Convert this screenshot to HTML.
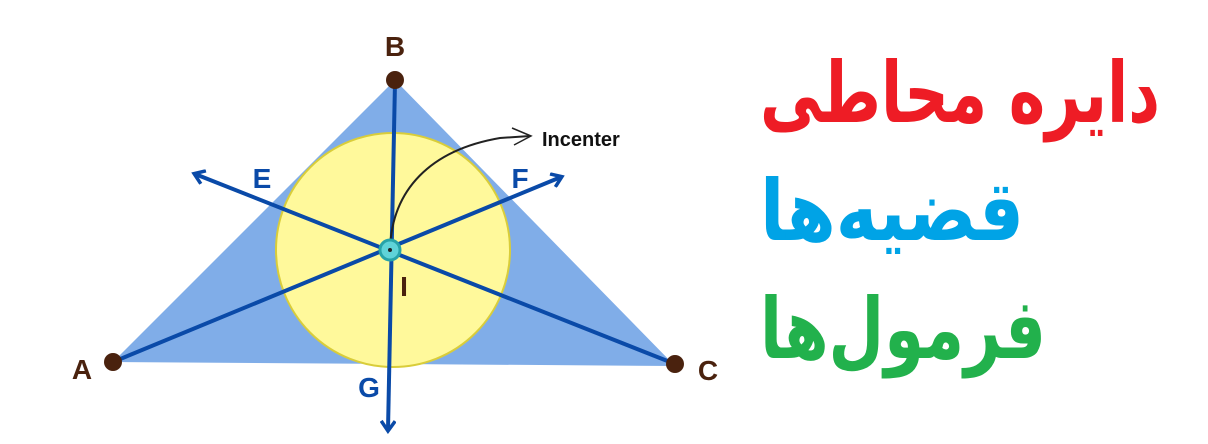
<!DOCTYPE html>
<html><head><meta charset="utf-8"><style>
html,body{margin:0;padding:0;background:#fff;}
svg{display:block;}
</style></head><body>
<svg width="1208" height="444" viewBox="0 0 1208 444" xmlns="http://www.w3.org/2000/svg">
<defs>
<marker id="ar" markerWidth="16" markerHeight="16" refX="12" refY="8" orient="auto" markerUnits="userSpaceOnUse">
<path d="M3,1 L13,8 L3,15" fill="none" stroke="#0a4aa8" stroke-width="3.5"/>
</marker>
</defs>
<polygon points="395,80 113,362 675,366" fill="#80ade8"/>
<ellipse cx="393" cy="250" rx="117" ry="117" fill="#fff99b" stroke="#d9cd3a" stroke-width="2"/>
<g stroke="#0a4aa8" stroke-width="4" fill="none">
<line x1="395" y1="82" x2="388" y2="430" marker-end="url(#ar)"/>
<line x1="113" y1="362" x2="561" y2="177" marker-end="url(#ar)"/>
<line x1="675" y1="364" x2="195" y2="174" marker-end="url(#ar)"/>
</g>
<path d="M390,249 C392,190 430,150 500,138 L530,136" fill="none" stroke="#222" stroke-width="2"/>
<path d="M512,128 L531,136 L514,145" fill="none" stroke="#222" stroke-width="1.5"/>
<circle cx="390" cy="250" r="10" fill="#5fd3d8" stroke="#27a3a8" stroke-width="3"/>
<circle cx="390" cy="250" r="2" fill="#222"/>
<g fill="#4a220e">
<circle cx="395" cy="80" r="9"/><circle cx="113" cy="362" r="9"/><circle cx="675" cy="364" r="9"/>
</g>
<g font-family="Liberation Sans, sans-serif" font-weight="bold" font-size="28">
<text x="395" y="56" fill="#4a220e" text-anchor="middle">B</text>
<text x="82" y="379" fill="#4a220e" text-anchor="middle">A</text>
<text x="708" y="380" fill="#4a220e" text-anchor="middle">C</text>
<text x="404" y="296" fill="#4a220e" text-anchor="middle">I</text>
<text x="262" y="188" fill="#0a4aa8" text-anchor="middle">E</text>
<text x="520" y="188" fill="#0a4aa8" text-anchor="middle">F</text>
<text x="369" y="397" fill="#0a4aa8" text-anchor="middle">G</text>
<text x="542" y="146" fill="#111" font-size="20">Incenter</text>
</g>
<g font-family="DejaVu Sans, sans-serif" font-weight="bold" direction="rtl">
<text x="1160" y="122" fill="#ee1c25" font-size="84" text-anchor="start" textLength="400" lengthAdjust="spacingAndGlyphs">دایره محاطی</text>
<text x="1024" y="240" fill="#00a3e6" font-size="84" text-anchor="start" textLength="264" lengthAdjust="spacingAndGlyphs">قضیه‌ها</text>
<text x="1046" y="358" fill="#22b14c" font-size="84" text-anchor="start" textLength="286" lengthAdjust="spacingAndGlyphs">فرمول‌ها</text>
</g>
</svg>
</body></html>
